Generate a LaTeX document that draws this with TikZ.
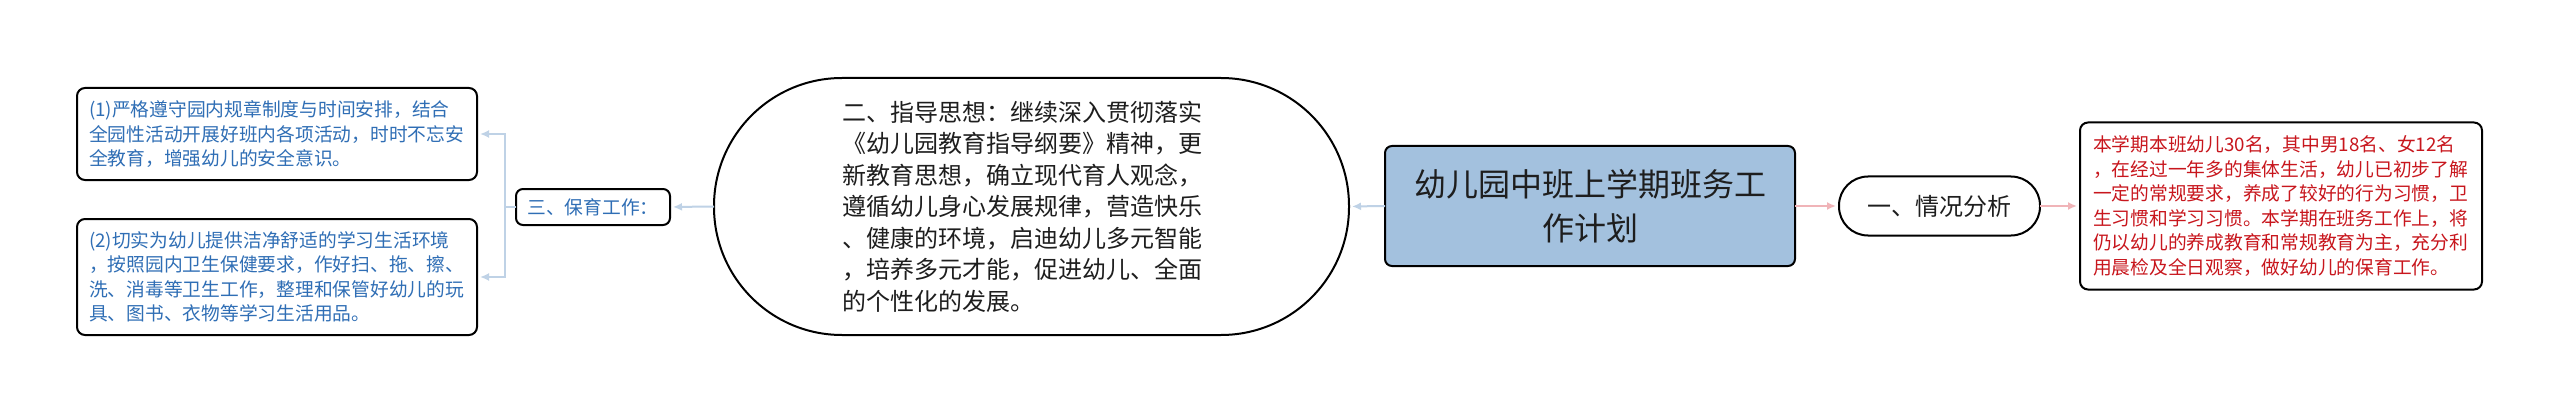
\documentclass[tikz,border=0pt]{standalone}
\usepackage{fontspec}
\setmainfont{Noto Sans CJK SC}
\usetikzlibrary{arrows.meta}
\definecolor{linkblue}{HTML}{BFD2E6}
\definecolor{linkpink}{HTML}{F0B4B8}
\definecolor{txtblue}{HTML}{2F6EB5}
\definecolor{txtred}{HTML}{C8161D}
\definecolor{rootfill}{HTML}{A3C1DE}
\definecolor{txtdark}{HTML}{1E1E1E}
\begin{document}
\begin{tikzpicture}[x=1pt,y=-1pt,
  frame/.style={draw=black, line width=2pt, inner sep=0pt, outer sep=0pt},
  leafbox/.style={frame, rounded corners=8pt, minimum width=400pt, text width=376pt, align=left,
    font=\fontsize{18.75pt}{24.5pt}\selectfont},
  bluebox/.style={leafbox, text=txtblue},
  redbox/.style={leafbox, text=txtred, minimum width=402pt},
  pill/.style={frame, text=txtdark, font=\fontsize{24pt}{31.5pt}\selectfont},
  rootbox/.style={frame, rounded corners=7pt, fill=rootfill, text=txtdark, minimum width=410pt,
    minimum height=120pt, text width=400pt, align=center, font=\fontsize{32pt}{44pt}\selectfont},
  bluelink/.style={draw=linkblue, line width=2pt},
  bluearrow/.style={bluelink, -{Latex[length=9pt,width=8pt]}, shorten >=3pt},
  pinkarrow/.style={draw=linkpink, line width=2pt, -{Latex[length=9pt,width=8pt]}, shorten >=3pt}
]
\fill[white] (0,0) rectangle (2560,417);
\useasboundingbox (0,0) rectangle (2560,417);

\node[rootbox] (root) at (1590,206) {幼儿园中班上学期班务工\\作计划};

\node[pill, rounded corners=29pt, minimum width=201pt, minimum height=59pt] (s1) at (1939.5,206) {一、情况分析};

\node[redbox, minimum height=167pt] (r1) at (2281,206) {本学期本班幼儿30名，其中男18名、女12名\\，在经过一年多的集体生活，幼儿已初步了解\\一定的常规要求，养成了较好的行为习惯，卫\\生习惯和学习习惯。本学期在班务工作上，将\\仍以幼儿的养成教育和常规教育为主，充分利\\用晨检及全日观察，做好幼儿的保育工作。};

\node[pill, rounded corners=128pt, minimum width=635pt, minimum height=257pt, text width=378pt, align=left] (s2) at (1031.5,206.5) {二、指导思想：继续深入贯彻落实\\《幼儿园教育指导纲要》精神，更\\新教育思想，确立现代育人观念，\\遵循幼儿身心发展规律，营造快乐\\、健康的环境，启迪幼儿多元智能\\，培养多元才能，促进幼儿、全面\\的个性化的发展。};

\node[frame, rounded corners=7pt, text=txtblue, minimum width=154pt, minimum height=36pt,
  font=\fontsize{18.75pt}{24.5pt}\selectfont] (s3) at (593,207) {三、保育工作：};

\node[bluebox, minimum height=92pt] (b1) at (277,134) {(1)严格遵守园内规章制度与时间安排，结合\\全园性活动开展好班内各项活动，时时不忘安\\全教育，增强幼儿的安全意识。};

\node[bluebox, minimum height=116pt] (b2) at (277,277) {(2)切实为幼儿提供洁净舒适的学习生活环境\\，按照园内卫生保健要求，作好扫、拖、擦、\\洗、消毒等卫生工作，整理和保管好幼儿的玩\\具、图书、衣物等学习生活用品。};

% connectors
\draw[pinkarrow] (root.east) -- (s1.west);
\draw[pinkarrow] (s1.east) -- (r1.west);
\draw[bluearrow] (root.west) -- (s2.east);
\draw[bluearrow] (s2.west) -- (s3.east);
\draw[bluelink] (s3.west) -- ++(-11,0) coordinate (j);
\draw[bluearrow] (j) |- (b1.east);
\draw[bluearrow] (j) |- (b2.east);
\end{tikzpicture}
\end{document}
